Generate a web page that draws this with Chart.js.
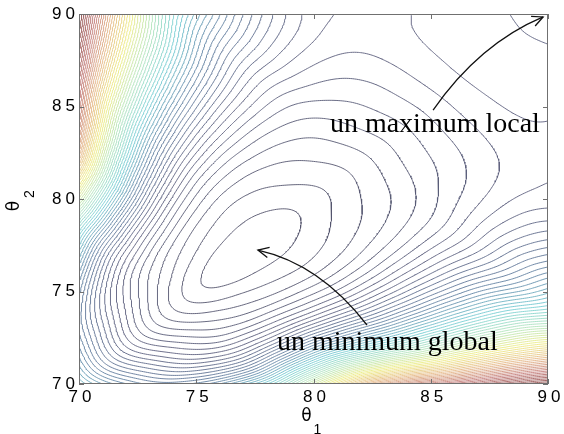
<!DOCTYPE html>
<html><head><meta charset="utf-8">
<script src="https://cdn.jsdelivr.net/npm/chart.js@4"></script>
<style>html,body{margin:0;padding:0;background:#fff}canvas{display:block}</style>
</head><body>
<canvas id="c" width="564" height="434"></canvas>
<script>
// Profiles. s = (theta1+theta2)/2 runs along the valley (diagonal),
// d = |theta2-theta1|/2 runs across it.
const sNodes = [70,71,72,73,74,75,76,77,78,79,80,81,82,83,84,85,86,87,88,89,90];
// cost along the diagonal theta1 = theta2
const diagProfile = [23.0,15.7,10.05,5.9,3.1,1.35,0.47,0.21,0.3,0.8,1.6,2.5,3.6,4.9,6.1,7.4,8.6,9.35,9.65,10.0,10.4];
// steepness of the walls across the valley
const wallSteepness = [1.3,1.25,1.2,1.05,0.9,0.85,0.75,0.6,0.47,0.38,0.31,0.25,0.19,0.15,0.105,0.052,0.008,-0.032,-0.05,-0.05,-0.05];
const dNodes = [0,1,2,3,4,5,6,7,8,9,10];
// shape of the cross-valley rise
const crossProfile = [0,1.9,5.4,12.5,24.25,40.5,61.6,87.8,119.4,156.6,199.5];
// contour levels
const contourLevels = [1,2,3,4,5,6,7,8,9,10,11,12,13,14,15,16,17,18,19,20,21,22,23,24,25,26,27,28,29,30,31,32,33,34,35,36,37,38,39,40,41,42,43,44,45,46,47,48,49,50,51,52,53,54,55,56,57,58,59,60,61,62,63];
// axes
const xTicks = [70,75,80,85,90];
const yTicks = [70,75,80,85,90];
const xRange = [70,90];
const yRange = [70,90];
// annotations
const maxLabel = 'un maximum local';
const minLabel = 'un minimum global';

function cr(p0,p1,p2,p3,t){
  return 0.5*(2*p1+(-p0+p2)*t+(2*p0-5*p1+4*p2-p3)*t*t+(-p0+3*p1-3*p2+p3)*t*t*t);
}
function interp1(nodes,vals,v,mirror){
  const n=vals.length, h=nodes[1]-nodes[0];
  let u=(v-nodes[0])/h; if(u<0)u=0; if(u>n-1)u=n-1;
  const i0=Math.min(Math.floor(u),n-2), t=u-i0;
  const g=k=>{
    if(k<0) return mirror?vals[-k]:2*vals[0]-vals[1];
    if(k>=n) return 2*vals[n-1]-vals[n-2];
    return vals[k];
  };
  return cr(g(i0-1),g(i0),g(i0+1),g(i0+2),t);
}
function field(t1,t2){
  const s=(t1+t2)/2, d=Math.abs(t2-t1)/2;
  return interp1(sNodes,diagProfile,s,false)+interp1(sNodes,wallSteepness,s,false)*interp1(dNodes,crossProfile,d,true);
}
// sample on a fine grid
const NX=241, NY=241;
const xs=[], ys=[];
for(let i=0;i<NX;i++) xs.push(xRange[0]+(xRange[1]-xRange[0])*i/(NX-1));
for(let j=0;j<NY;j++) ys.push(yRange[0]+(yRange[1]-yRange[0])*j/(NY-1));
const Z=new Float64Array(NX*NY);
for(let j=0;j<NY;j++)for(let i=0;i<NX;i++) Z[j*NX+i]=field(xs[i],ys[j]);

function contour(L){
  const adj=new Map(), pt=new Map();
  const key=(t,i,j)=>((j*NX+i)*2+t);
  function P(k){
    if(pt.has(k))return;
    const t=k%2, idx=(k-t)/2, i=idx%NX, j=(idx-i)/NX;
    let a,b,f;
    if(t===0){a=Z[j*NX+i];b=Z[j*NX+i+1];f=(L-a)/(b-a);pt.set(k,{x:xs[i]+f*(xs[i+1]-xs[i]),y:ys[j]});}
    else{a=Z[j*NX+i];b=Z[(j+1)*NX+i];f=(L-a)/(b-a);pt.set(k,{x:xs[i],y:ys[j]+f*(ys[j+1]-ys[j])});}
  }
  function link(a,b){P(a);P(b);
    if(!adj.has(a))adj.set(a,[]); if(!adj.has(b))adj.set(b,[]);
    adj.get(a).push(b); adj.get(b).push(a);}
  for(let j=0;j<NY-1;j++)for(let i=0;i<NX-1;i++){
    const z0=Z[j*NX+i],z1=Z[j*NX+i+1],z2=Z[(j+1)*NX+i+1],z3=Z[(j+1)*NX+i];
    const c=(z0>=L?1:0)|(z1>=L?2:0)|(z2>=L?4:0)|(z3>=L?8:0);
    if(c===0||c===15)continue;
    const B=key(0,i,j),R=key(1,i+1,j),T=key(0,i,j+1),Lf=key(1,i,j);
    switch(c){
      case 1:case 14:link(Lf,B);break;
      case 2:case 13:link(B,R);break;
      case 3:case 12:link(Lf,R);break;
      case 4:case 11:link(R,T);break;
      case 6:case 9:link(B,T);break;
      case 7:case 8:link(Lf,T);break;
      case 5:{const m=(z0+z1+z2+z3)/4;if(m>=L){link(B,R);link(Lf,T);}else{link(B,Lf);link(R,T);}break;}
      case 10:{const m=(z0+z1+z2+z3)/4;if(m>=L){link(B,Lf);link(R,T);}else{link(B,R);link(Lf,T);}break;}
    }
  }
  const visited=new Set(), out=[];
  function walk(s){
    const path=[s];visited.add(s);let cur=s;
    for(;;){
      const nb=adj.get(cur);let nx=-1;
      for(const n of nb){if(!visited.has(n)){nx=n;break;}}
      if(nx<0){if(path.length>2&&nb.includes(s))path.push(s);break;}
      visited.add(nx);path.push(nx);cur=nx;
    }
    return path;
  }
  for(const [k,nb] of adj) if(nb.length===1&&!visited.has(k)) out.push(walk(k));
  for(const [k] of adj) if(!visited.has(k)) out.push(walk(k));
  const data=[];
  for(const p of out){ for(const k of p) data.push(pt.get(k)); data.push({x:NaN,y:NaN}); }
  return data;
}
const stops=[[0,[84,84,108]],[0.15,[94,98,130]],[0.27,[98,132,165]],[0.38,[115,205,212]],[0.5,[178,228,188]],[0.62,[238,236,130]],[0.75,[228,182,135]],[0.87,[196,125,122]],[1,[138,72,72]]];
function cmap(t){
  for(let k=1;k<stops.length;k++){
    if(t<=stops[k][0]){const a=stops[k-1],b=stops[k],f=(t-a[0])/(b[0]-a[0]);
      const c=a[1].map((v,q)=>Math.round(v+f*(b[1][q]-v)));return `rgb(${c[0]},${c[1]},${c[2]})`;}
  }
  const c=stops[stops.length-1][1];return `rgb(${c[0]},${c[1]},${c[2]})`;
}
const lmin=contourLevels[0], lmax=contourLevels[contourLevels.length-1];
const datasets=contourLevels.map(L=>({
  data:contour(L+1e-7), showLine:true, borderColor:cmap((L-lmin)/(lmax-lmin)), borderWidth:0.9,
  pointRadius:0, pointHoverRadius:0, tension:0, spanGaps:false, fill:false
}));

const framePlugin={
  id:'frame',
  beforeDraw(chart){chart.ctx.letterSpacing='4px';},
  beforeDatasetsDraw(chart){chart.ctx.letterSpacing='0px';},
  afterDatasetsDraw(chart){
    const {ctx,chartArea:a,scales:{x,y}}=chart;
    ctx.save();
    ctx.letterSpacing='0px';
    ctx.strokeStyle='#707070';ctx.lineWidth=1;
    ctx.strokeRect(Math.round(a.left)+0.5,Math.round(a.top)+0.5,Math.round(a.right-a.left)-1,Math.round(a.bottom-a.top)-1);
    ctx.beginPath();
    for(const v of xTicks){const p=Math.round(x.getPixelForValue(v))+0.5;
      ctx.moveTo(p,a.bottom);ctx.lineTo(p,a.bottom-5);ctx.moveTo(p,a.top);ctx.lineTo(p,a.top+5);}
    for(const v of yTicks){const p=Math.round(y.getPixelForValue(v))+0.5;
      ctx.moveTo(a.left,p);ctx.lineTo(a.left+5,p);ctx.moveTo(a.right,p);ctx.lineTo(a.right-5,p);}
    ctx.stroke();
    // axis titles
    ctx.fillStyle='#000';ctx.textAlign='center';ctx.textBaseline='middle';
    const cx=(a.left+a.right)/2, cy=(a.top+a.bottom)/2;
    ctx.font='17px "DejaVu Sans", sans-serif';
    ctx.fillText('θ',cx-7,a.bottom+33);
    ctx.font='14px "Liberation Sans", sans-serif';
    ctx.fillText('1',cx+4,a.bottom+46);
    ctx.save();ctx.translate(15,cy+7);ctx.rotate(-Math.PI/2);
    ctx.font='17px "DejaVu Sans", sans-serif';ctx.fillText('θ',0,0);ctx.restore();
    ctx.save();ctx.translate(30,cy-5);ctx.rotate(-Math.PI/2);
    ctx.font='14px "Liberation Sans", sans-serif';ctx.fillText('2',0,0);ctx.restore();
    // annotations (positions in data units)
    function arrow(p0,pc,p1){
      const P0=[x.getPixelForValue(p0[0]),y.getPixelForValue(p0[1])];
      const PC=[x.getPixelForValue(pc[0]),y.getPixelForValue(pc[1])];
      const P1=[x.getPixelForValue(p1[0]),y.getPixelForValue(p1[1])];
      ctx.strokeStyle='#111';ctx.lineWidth=1.3;
      ctx.beginPath();ctx.moveTo(P0[0],P0[1]);ctx.quadraticCurveTo(PC[0],PC[1],P1[0],P1[1]);ctx.stroke();
      const dx=P1[0]-PC[0],dy=P1[1]-PC[1],ang=Math.atan2(dy,dx);
      ctx.beginPath();
      ctx.moveTo(P1[0]-12*Math.cos(ang-0.45),P1[1]-12*Math.sin(ang-0.45));
      ctx.lineTo(P1[0],P1[1]);
      ctx.lineTo(P1[0]-12*Math.cos(ang+0.45),P1[1]-12*Math.sin(ang+0.45));
      ctx.stroke();
    }
    arrow([85.1,84.8],[87.06,88.38],[89.79,89.84]);
    arrow([82.28,73.19],[80.28,76.49],[77.63,77.24]);
    ctx.fillStyle='#000';
    ctx.font='28px "Liberation Serif", "Times New Roman", serif';
    ctx.textAlign='left';ctx.textBaseline='alphabetic';
    ctx.fillText(maxLabel,x.getPixelForValue(80.7),y.getPixelForValue(83.62));
    ctx.fillText(minLabel,x.getPixelForValue(78.44),y.getPixelForValue(71.83));
    ctx.restore();
  }
};

new Chart(document.getElementById('c'),{
  type:'scatter',
  data:{datasets},
  options:{
    responsive:false, animation:false, devicePixelRatio:1, events:[],
    layout:{padding:{top:14,right:16,left:0,bottom:0}},
    plugins:{legend:{display:false},tooltip:{enabled:false},title:{display:false}},
    scales:{
      x:{type:'linear',min:xRange[0],max:xRange[1],
        afterBuildTicks:s=>{s.ticks=xTicks.map(v=>({value:v}));},
        ticks:{font:{family:'"Liberation Sans", Arial, sans-serif',size:17},color:'#000',padding:3,labelOffset:3,maxRotation:0,autoSkip:false},
        grid:{display:false,drawTicks:false},border:{display:false},
        afterFit:s=>{s.height=50;}},
      y:{type:'linear',min:yRange[0],max:yRange[1],
        afterBuildTicks:s=>{s.ticks=yTicks.map(v=>({value:v}));},
        ticks:{font:{family:'"Liberation Sans", Arial, sans-serif',size:17},color:'#000',padding:0,autoSkip:false},
        grid:{display:false,drawTicks:false},border:{display:false},
        afterFit:s=>{s.width=79;}}
    }
  },
  plugins:[framePlugin]
});
</script>
</body></html>
